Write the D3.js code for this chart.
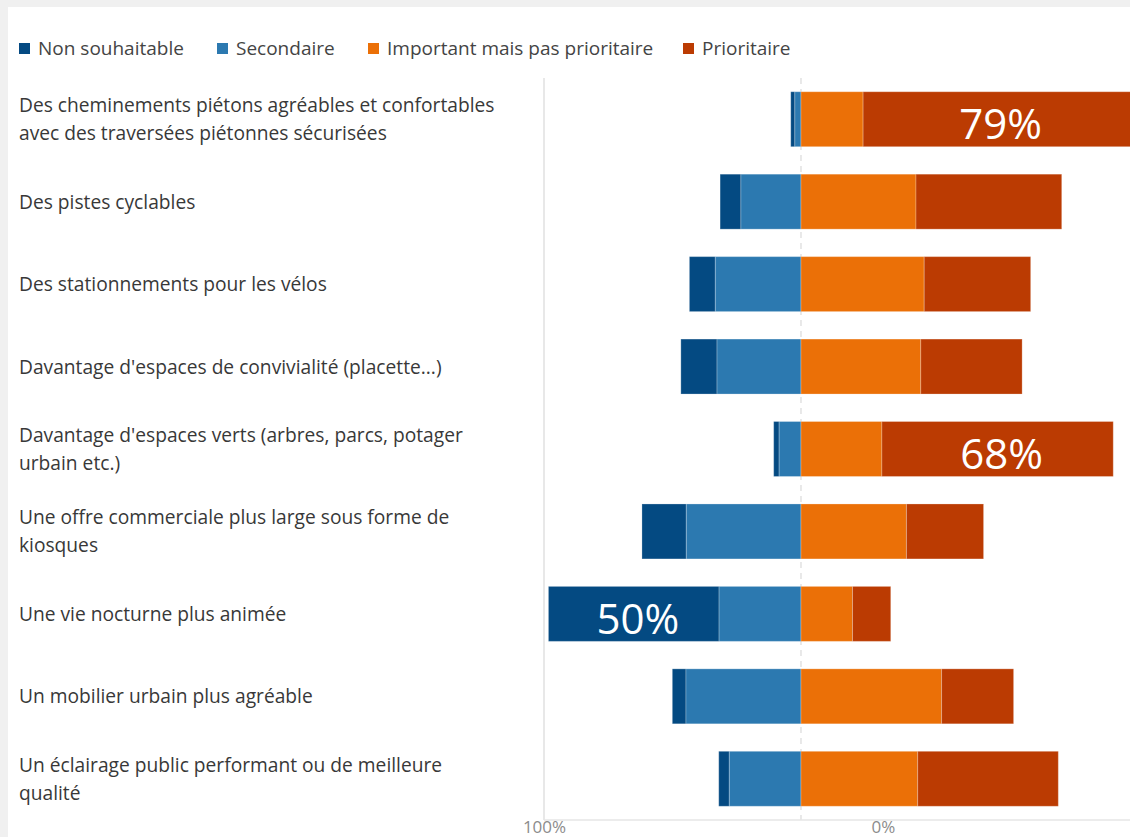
<!DOCTYPE html>
<html>
<head>
<meta charset="utf-8">
<script src="https://cdn.jsdelivr.net/npm/d3@7"></script>
<style>
  html, body { margin: 0; padding: 0; background: #f0f0f0; }
  svg { display: block; }
  text { font-family: "Open Sans", "Noto Sans", sans-serif; }
</style>
</head>
<body>
<svg id="chart" width="1130" height="837"></svg>
<script>
// categories (line breaks follow the original wrapping)
const categories = [
  "Des cheminements piétons agréables et confortables\navec des traversées piétonnes sécurisées",
  "Des pistes cyclables",
  "Des stationnements pour les vélos",
  "Davantage d'espaces de convivialité (placette...)",
  "Davantage d'espaces verts (arbres, parcs, potager\nurbain etc.)",
  "Une offre commerciale plus large sous forme de\nkiosques",
  "Une vie nocturne plus animée",
  "Un mobilier urbain plus agréable",
  "Un éclairage public performant ou de meilleure\nqualité"
];

const seriesNames = ["Non souhaitable", "Secondaire", "Important mais pas prioritaire", "Prioritaire"];

// values in %
const nonSouhaitable = [1.2, 6.1, 7.6, 10.6, 1.6, 13.0, 50.0, 4.0, 3.1];
const secondaire     = [1.8, 17.6, 25.1, 24.6, 6.4, 33.6, 24.0, 33.7, 21.0];
const important      = [18.2, 33.7, 36.1, 35.1, 23.7, 30.9, 15.1, 41.2, 34.2];
const prioritaire    = [79.0, 42.7, 31.2, 29.7, 67.8, 22.6, 11.2, 21.1, 41.2];

const axisTicks = [100, 0];

const colors = ["#044a82", "#2c79b0", "#eb7007", "#bb3b02"];

const svg = d3.select("#chart");
const W = 1130, H = 837;
const plot = { left: 544, right: 1131, top: 78, bottom: 820 };

// white card
svg.append("rect").attr("x", 8).attr("y", 7).attr("width", W - 8).attr("height", H - 7).attr("fill", "#fff");

const x = d3.scaleLinear().domain([-75.3, 96.7]).range([plot.left, plot.right]);
const y = d3.scaleBand().domain(d3.range(categories.length))
  .range([plot.top, plot.bottom]).paddingInner(1 / 3).paddingOuter(1 / 6);

// build segments: left side goes outward from 0
const rows = categories.map((c, i) => {
  const ns = nonSouhaitable[i], se = secondaire[i], im = important[i], pr = prioritaire[i];
  return [
    { s: 0, x0: -se - ns, x1: -se, v: ns },
    { s: 1, x0: -se, x1: 0, v: se },
    { s: 2, x0: 0, x1: im, v: im },
    { s: 3, x0: im, x1: im + pr, v: pr }
  ].map(d => ({ ...d, i }));
});

const g = svg.append("g");

// left axis line
g.append("line")
  .attr("x1", plot.left).attr("x2", plot.left)
  .attr("y1", plot.top).attr("y2", plot.bottom)
  .attr("stroke", "#e8e8e8").attr("stroke-width", 2);

// centre dashed line
g.append("line")
  .attr("x1", x(0)).attr("x2", x(0))
  .attr("y1", plot.top).attr("y2", plot.bottom)
  .attr("stroke", "#e2e2e2").attr("stroke-width", 1.5)
  .attr("stroke-dasharray", "6,5");

// bottom axis
g.append("line")
  .attr("x1", plot.left).attr("x2", W)
  .attr("y1", plot.bottom).attr("y2", plot.bottom)
  .attr("stroke", "#e6e6e6").attr("stroke-width", 1.5);

const axisScale = d3.scaleLinear().domain([100, 0]).range([plot.left, plot.left + 339]);
const ax = g.append("g")
  .attr("transform", `translate(0,${plot.bottom})`)
  .call(d3.axisBottom(axisScale).tickValues(axisTicks).tickFormat(d => d + "%").tickSize(0).tickPadding(1));
ax.select(".domain").remove();
ax.selectAll("text").attr("fill", "#8c8c8c").style("font-size", "17px")
  .style("font-family", "'Open Sans', sans-serif");

// bars
g.selectAll("g.row").data(rows).join("g").attr("class", "row")
  .selectAll("rect").data(d => d).join("rect")
  .attr("x", d => x(d.x0))
  .attr("width", d => x(d.x1) - x(d.x0))
  .attr("y", d => y(d.i))
  .attr("height", y.bandwidth())
  .attr("fill", d => colors[d.s])
  .attr("stroke", "#ffffff").attr("stroke-opacity", 0.25).attr("stroke-width", 1);

// big value labels
g.selectAll("text.val")
  .data(rows.flat().filter(d => d.v >= 45))
  .join("text").attr("class", "val")
  .attr("x", d => (x(d.x0) + Math.min(x(d.x1), W)) / 2 + 4)
  .attr("y", d => y(d.i) + y.bandwidth() / 2)
  .attr("dy", "0.47em")
  .attr("text-anchor", "middle")
  .attr("fill", "#fff")
  .style("font-size", "42px")
  .text(d => Math.round(d.v) + "%");

// category labels
const lab = svg.append("g").selectAll("text").data(categories).join("text")
  .attr("x", 19)
  .attr("y", (d, i) => y(i) + y.bandwidth() / 2)
  .attr("fill", "#383838")
  .style("font-size", "19.2px");
lab.each(function (d) {
  const lines = d.split("\n");
  const t = d3.select(this);
  const lh = 28;
  lines.forEach((l, k) => {
    t.append("tspan").attr("x", 19)
      .attr("dy", k === 0 ? ((-(lines.length - 1) * lh / 2) + 7) : lh)
      .text(l);
  });
});

// legend
const legendX = [19, 217, 368, 683];
const leg = svg.append("g").selectAll("g").data(seriesNames).join("g")
  .attr("transform", (d, i) => `translate(${legendX[i]},48)`);
leg.append("rect").attr("x", 0).attr("y", -5).attr("width", 11).attr("height", 11)
  .attr("fill", (d, i) => colors[i]);
leg.append("text").attr("x", 19).attr("y", 0).attr("dy", "0.35em")
  .attr("fill", "#444").style("font-size", "19px").text(d => d);
</script>
</body>
</html>
